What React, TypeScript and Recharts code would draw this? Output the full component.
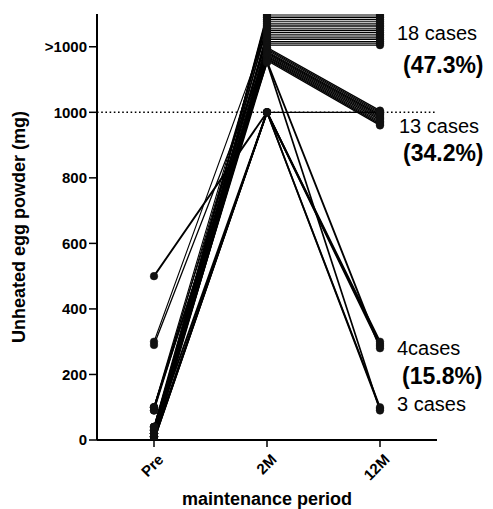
import React from 'react';
import { LineChart, Line, XAxis, YAxis, ReferenceLine, ReferenceDot } from 'recharts';

// Time points of the maintenance period
const periods = ['Pre', '2M', '12M'];

// Threshold dose of unheated egg powder (mg) for each of the 38 cases.
// Doses above 1000 mg are spread across the ">1000" band so each case stays visible.
const preValues = [
  0, 10, 20, 30, 40, 100, 0, 20, 90, 300, 10, 30, 0, 40, 100, 20, 0, 10,
  0, 20, 40, 10, 90, 290, 30, 0, 20, 100, 10, 40, 0,
  500, 0, 30, 20,
  10, 0, 100,
];
const twoMonthValues = [
  1300, 1294, 1289, 1283, 1278, 1272, 1266, 1261, 1255, 1250, 1244, 1238, 1233, 1227, 1222, 1216, 1211, 1205,
  1198, 1194, 1190, 1186, 1183, 1180, 1176, 1172, 1169, 1165, 1162, 1158, 1000,
  1000, 1000, 1000, 1155,
  1000, 1000, 1152,
];
const twelveMonthValues = [
  1300, 1294, 1289, 1283, 1278, 1272, 1266, 1261, 1255, 1250, 1244, 1238, 1233, 1227, 1222, 1216, 1211, 1205,
  1005, 1001, 997, 993, 989, 985, 981, 977, 972, 968, 964, 960, 1000,
  300, 293, 287, 280,
  100, 95, 90,
];

const yTicks = [0, 200, 400, 600, 800, 1000, 1200];
const yTickLabels = ['0', '200', '400', '600', '800', '1000', '>1000'];

// Outcome groups at 12 months (cases are listed group by group above)
const outcomeCounts = [18, 13, 4, 3];
const outcomeLabels = ['18 cases', '13 cases', '4cases', '3 cases'];
const outcomeShares = ['(47.3%)', '(34.2%)', '(15.8%)', ''];

const FONT = '"Liberation Sans", Arial, Helvetica, sans-serif';
const caseCount = preValues.length;
const seriesByPeriod = [preValues, twoMonthValues, twelveMonthValues];

const chartData = periods.map((period, p) => {
  const row: Record<string, string | number> = { period };
  seriesByPeriod[p].forEach((v, i) => {
    row[`c${i}`] = v;
  });
  return row;
});

// group index of every case
const caseGroup: number[] = [];
outcomeCounts.forEach((n, g) => {
  for (let k = 0; k < n; k++) caseGroup.push(g);
});

// mean 12M level of every outcome group, used to anchor its caption
const groupAnchors = outcomeCounts.map((_, g) => {
  const vals = twelveMonthValues.filter((_, i) => caseGroup[i] === g);
  return vals.reduce((a, b) => a + b, 0) / vals.length;
});

// stroke width per outcome group (the stacked >1000 band stays fine-lined)
const groupStroke = [1.1, 1.3, 1.9, 1.7];

// caption placement relative to the group's 12M point
const captionLayout = [
  { dx: 17, dy1: 10, dx2: 23, dy2: 43 },
  { dx: 19, dy1: 15, dx2: 23, dy2: 43 },
  { dx: 17, dy1: 10, dx2: 22, dy2: 39 },
  { dx: 17, dy1: 2, dx2: 22, dy2: 30 },
];

const XTick = (props: any) => {
  const { x, y, payload } = props;
  const ax = x + 3;
  const ay = y + 4;
  return (
    <text
      x={ax}
      y={ay}
      dy="0.71em"
      transform={`rotate(-45, ${ax}, ${ay})`}
      textAnchor="end"
      fontFamily={FONT}
      fontWeight="bold"
      fontSize={15}
      fill="#000"
    >
      {payload.value}
    </text>
  );
};

const YTick = (props: any) => {
  const { x, y, payload } = props;
  const idx = yTicks.indexOf(payload.value);
  return (
    <text
      x={x}
      y={y}
      dy="0.35em"
      textAnchor="end"
      fontFamily={FONT}
      fontWeight="bold"
      fontSize={15}
      fill="#000"
    >
      {idx >= 0 ? yTickLabels[idx] : payload.value}
    </text>
  );
};

const YTitle = (props: any) => {
  const vb = props.viewBox || { x: 0, y: 6, width: 89, height: 426 };
  const cx = vb.x + 11;
  const cy = vb.y + vb.height / 2;
  return (
    <text
      x={cx}
      y={cy}
      dy="0.35em"
      transform={`rotate(-90, ${cx}, ${cy})`}
      textAnchor="middle"
      fontFamily={FONT}
      fontWeight="bold"
      fontSize={18}
      fill="#000"
    >
      Unheated egg powder (mg)
    </text>
  );
};

const XTitle = (props: any) => {
  const vb = props.viewBox || { x: 89, y: 432, width: 340, height: 66 };
  return (
    <text
      x={vb.x + vb.width / 2}
      y={vb.y + vb.height - 1}
      textAnchor="middle"
      fontFamily={FONT}
      fontWeight="bold"
      fontSize={18}
      fill="#000"
    >
      maintenance period
    </text>
  );
};

const makeCaption = (g: number) => (props: any) => {
  const { cx, cy } = props;
  const l = captionLayout[g];
  return (
    <g>
      <text x={cx + l.dx} y={cy + l.dy1} fontFamily={FONT} fontSize={20} fill="#000">
        {outcomeLabels[g]}
      </text>
      {outcomeShares[g] ? (
        <text x={cx + l.dx2} y={cy + l.dy2} fontFamily={FONT} fontWeight="bold" fontSize={23} fill="#000">
          {outcomeShares[g]}
        </text>
      ) : null}
    </g>
  );
};

export default function App() {
  return (
    <div style={{ width: 485, height: 501, background: '#fff' }}>
      <LineChart
        width={485}
        height={501}
        data={chartData}
        margin={{ top: 6, right: 56, bottom: 3, left: 0 }}
      >
        <XAxis
          dataKey="period"
          padding={{ left: 57, right: 57 }}
          height={66}
          stroke="#000"
          strokeWidth={2}
          tickSize={7}
          tickMargin={2}
          tickLine={{ stroke: '#000', strokeWidth: 1.5 }}
          tick={<XTick />}
          interval={0}
          label={<XTitle />}
        />
        <YAxis
          type="number"
          domain={[0, 1300]}
          ticks={yTicks}
          width={89}
          stroke="#000"
          strokeWidth={2}
          tickSize={8}
          tickMargin={2}
          tickLine={{ stroke: '#000', strokeWidth: 1.5 }}
          tick={<YTick />}
          interval={0}
          allowDataOverflow
          label={<YTitle />}
        />
        <ReferenceLine y={1000} stroke="#000" strokeWidth={1.5} strokeDasharray="1.6 2.6" />
        {Array.from({ length: caseCount }, (_, i) => (
          <Line
            key={i}
            dataKey={`c${i}`}
            type="linear"
            stroke="#000"
            strokeWidth={groupStroke[caseGroup[i]]}
            dot={{ r: 3.8, fill: '#111', stroke: '#111', strokeWidth: 0.5 }}
            activeDot={false}
            isAnimationActive={false}
          />
        ))}
        {groupAnchors.map((a, g) => (
          <ReferenceDot
            key={`cap${g}`}
            x="12M"
            y={a}
            r={0}
            ifOverflow="visible"
            shape={makeCaption(g)}
          />
        ))}
      </LineChart>
    </div>
  );
}
